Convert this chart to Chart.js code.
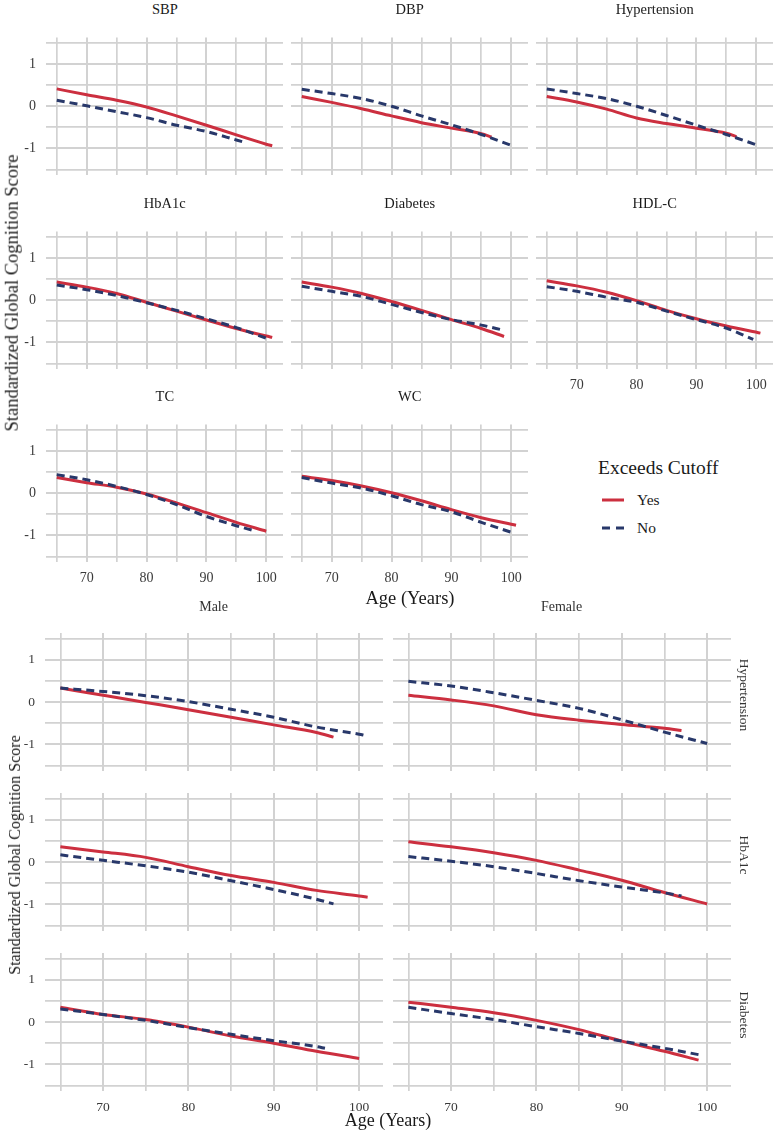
<!DOCTYPE html>
<html>
<head>
<meta charset="utf-8">
<script src="https://cdn.jsdelivr.net/npm/chart.js@4.4.1/dist/chart.umd.min.js"></script>
<style>
  html, body { margin: 0; padding: 0; background: #fff; }
  #fig {
    position: relative; width: 776px; height: 1132px; overflow: hidden;
    font-family: 'Liberation Serif', 'Times New Roman', serif; color: #1a1a1a;
  }
  #fig canvas { position: absolute; }
  .lbl { position: absolute; white-space: nowrap; line-height: 1; transform: translate(-50%, -50%); }
  .lbl.left { transform: translate(0, -50%); }
  .lbl.rot-l { transform: translate(-50%, -50%) rotate(-90deg); }
  .lbl.rot-r { transform: translate(-50%, -50%) rotate(90deg); }
  .swatch { position: absolute; height: 3px; width: 22px; transform: translateY(-50%); }
</style>
</head>
<body>
<div id="fig"></div>
<script>
// labels
const TOP_FACETS = ['SBP', 'DBP', 'Hypertension', 'HbA1c', 'Diabetes', 'HDL-C', 'TC', 'WC'];
const SEXES = ['Male', 'Female'];
const SEX_ROWS = ['Hypertension', 'HbA1c', 'Diabetes'];
const LEGEND_TITLE = 'Exceeds Cutoff';
const LEGEND_LABELS = ['Yes', 'No'];
const Y_TITLE = 'Standardized Global Cognition Score';
const X_TITLE = 'Age (Years)';

// fitted curves, [age, score]
const SBP_YES = [[65, 0.41], [70, 0.27], [75, 0.14], [80, -0.02], [85, -0.23], [90, -0.45], [95, -0.68], [100, -0.90], [101, -0.94]];
const SBP_NO = [[65, 0.14], [70, 0.01], [75, -0.13], [80, -0.27], [85, -0.45], [90, -0.60], [95, -0.80], [96.5, -0.86]];
const DBP_YES = [[65, 0.23], [70, 0.09], [75, -0.06], [80, -0.23], [85, -0.39], [90, -0.52], [95, -0.65], [96.7, -0.73]];
const DBP_NO = [[65, 0.40], [70, 0.30], [75, 0.18], [80, 0.00], [85, -0.23], [90, -0.44], [95, -0.67], [100, -0.93]];
const HTN_YES = [[65, 0.23], [70, 0.10], [75, -0.07], [80, -0.28], [85, -0.41], [90, -0.52], [95, -0.64], [96.7, -0.72]];
const HTN_NO = [[65, 0.41], [70, 0.30], [75, 0.18], [80, 0.00], [85, -0.22], [90, -0.45], [95, -0.67], [100.3, -0.93]];
const HBA1C_YES = [[65, 0.43], [70, 0.31], [75, 0.16], [80, -0.05], [85, -0.26], [90, -0.47], [95, -0.67], [100, -0.85], [101, -0.88]];
const HBA1C_NO = [[65, 0.36], [70, 0.25], [75, 0.11], [80, -0.06], [85, -0.24], [90, -0.44], [95, -0.65], [100, -0.90]];
const DIAB_YES = [[65, 0.43], [70, 0.31], [75, 0.16], [80, -0.03], [85, -0.24], [90, -0.46], [95, -0.67], [98.8, -0.86]];
const DIAB_NO = [[65, 0.33], [70, 0.21], [75, 0.09], [80, -0.10], [85, -0.29], [90, -0.46], [95, -0.59], [98.7, -0.71]];
const HDL_YES = [[65, 0.46], [70, 0.34], [75, 0.19], [80, -0.01], [85, -0.24], [90, -0.44], [95, -0.61], [100.7, -0.78]];
const HDL_NO = [[65, 0.32], [70, 0.21], [75, 0.07], [80, -0.05], [85, -0.26], [90, -0.46], [95, -0.66], [99.5, -0.93]];
const TC_YES = [[65, 0.37], [70, 0.25], [75, 0.14], [80, -0.02], [85, -0.23], [90, -0.46], [95, -0.69], [100, -0.90]];
const TC_NO = [[65, 0.44], [70, 0.32], [75, 0.16], [80, -0.03], [85, -0.27], [90, -0.55], [95, -0.77], [98, -0.89]];
const WC_YES = [[65, 0.40], [70, 0.30], [75, 0.17], [80, 0.01], [85, -0.18], [90, -0.39], [95, -0.58], [100.8, -0.76]];
const WC_NO = [[65, 0.37], [70, 0.24], [75, 0.12], [80, -0.06], [85, -0.27], [90, -0.44], [95, -0.69], [99.9, -0.92]];

const M_HTN_YES = [[65, 0.33], [70, 0.16], [75, -0.01], [80, -0.18], [85, -0.36], [90, -0.54], [95, -0.72], [97, -0.83]];
const M_HTN_NO = [[65, 0.33], [70, 0.25], [75, 0.15], [80, 0.01], [85, -0.17], [90, -0.36], [95, -0.59], [100, -0.76], [100.7, -0.79]];
const F_HTN_YES = [[65, 0.16], [70, 0.05], [75, -0.09], [80, -0.30], [85, -0.43], [90, -0.53], [95, -0.62], [97, -0.67]];
const F_HTN_NO = [[65, 0.49], [70, 0.38], [75, 0.22], [80, 0.04], [85, -0.15], [90, -0.42], [95, -0.71], [100, -0.98]];
const M_HBA1C_YES = [[65, 0.36], [70, 0.24], [75, 0.11], [80, -0.11], [85, -0.32], [90, -0.48], [95, -0.67], [100, -0.80], [101, -0.83]];
const M_HBA1C_NO = [[65, 0.17], [70, 0.04], [75, -0.09], [80, -0.24], [85, -0.44], [90, -0.65], [95, -0.88], [97, -0.99]];
const F_HBA1C_YES = [[65, 0.48], [70, 0.36], [75, 0.22], [80, 0.04], [85, -0.19], [90, -0.43], [95, -0.72], [100, -0.99]];
const F_HBA1C_NO = [[65, 0.13], [70, 0.02], [75, -0.11], [80, -0.27], [85, -0.44], [90, -0.59], [95, -0.73], [97, -0.80]];
const M_DIAB_YES = [[65, 0.35], [70, 0.18], [75, 0.06], [80, -0.12], [85, -0.33], [90, -0.50], [95, -0.69], [100, -0.86]];
const M_DIAB_NO = [[65, 0.31], [70, 0.18], [75, 0.04], [80, -0.13], [85, -0.29], [90, -0.44], [95, -0.58], [96, -0.62]];
const F_DIAB_YES = [[65, 0.47], [70, 0.35], [75, 0.22], [80, 0.04], [85, -0.18], [90, -0.45], [95, -0.69], [99, -0.90]];
const F_DIAB_NO = [[65, 0.35], [70, 0.20], [75, 0.06], [80, -0.11], [85, -0.27], [90, -0.45], [95, -0.62], [99, -0.77]];

const TOP_SERIES = {
  'SBP': [SBP_YES, SBP_NO], 'DBP': [DBP_YES, DBP_NO], 'Hypertension': [HTN_YES, HTN_NO],
  'HbA1c': [HBA1C_YES, HBA1C_NO], 'Diabetes': [DIAB_YES, DIAB_NO], 'HDL-C': [HDL_YES, HDL_NO],
  'TC': [TC_YES, TC_NO], 'WC': [WC_YES, WC_NO],
};
const SEX_SERIES = {
  Male: { 'Hypertension': [M_HTN_YES, M_HTN_NO], 'HbA1c': [M_HBA1C_YES, M_HBA1C_NO], 'Diabetes': [M_DIAB_YES, M_DIAB_NO] },
  Female: { 'Hypertension': [F_HTN_YES, F_HTN_NO], 'HbA1c': [F_HBA1C_YES, F_HBA1C_NO], 'Diabetes': [F_DIAB_YES, F_DIAB_NO] },
};

const AGE_MIN = 63.2, AGE_MAX = 102.8;
const SCORE_MIN = -1.63, SCORE_MAX = 1.63;

const YES_COLOR = '#cc2f3f';
const NO_COLOR = '#28386a';
const GRID = '#d2d2d2';
const TICK_COLOR = '#3a3a3a';
const FONT = "'Liberation Serif', 'Times New Roman', serif";

const fig = document.getElementById('fig');
const YW = 44, XH = 30, PAD = 4;

function addText(text, x, y, size, cls, color) {
  const d = document.createElement('div');
  d.className = 'lbl' + (cls ? ' ' + cls : '');
  d.textContent = text;
  d.style.left = x + 'px';
  d.style.top = y + 'px';
  d.style.fontSize = size + 'px';
  if (color) d.style.color = color;
  fig.appendChild(d);
}

function addPanel(box, series, showX, showY, tickSize) {
  const c = document.createElement('canvas');
  const w = box.w + YW + PAD, h = box.h + PAD + XH;
  c.width = w;
  c.height = h;
  c.style.left = (box.x - YW) + 'px';
  c.style.top = (box.y - PAD) + 'px';
  c.style.width = w + 'px';
  c.style.height = h + 'px';
  fig.appendChild(c);

  new Chart(c, {
    type: 'line',
    data: {
      datasets: series.map((pts, i) => ({
        label: LEGEND_LABELS[i],
        data: pts.map(([x, y]) => ({ x, y })),
        borderColor: i === 0 ? YES_COLOR : NO_COLOR,
        borderWidth: 3,
        borderDash: i === 0 ? [] : [8, 5],
        pointRadius: 0,
        cubicInterpolationMode: 'monotone',
        fill: false,
        order: i === 0 ? 1 : 0,
      })),
    },
    options: {
      responsive: false,
      animation: false,
      events: [],
      layout: { padding: { top: PAD, right: PAD, left: 0, bottom: 0 } },
      plugins: { legend: { display: false }, tooltip: { enabled: false } },
      scales: {
        x: {
          type: 'linear', min: AGE_MIN, max: AGE_MAX,
          border: { display: false },
          grid: { color: GRID, drawTicks: false, lineWidth: (ctx) => (ctx.tick && ctx.tick.value % 10 === 0 ? 2 : 1.7) },
          ticks: {
            stepSize: 5, includeBounds: false, autoSkip: false, maxRotation: 0, padding: 8,
            color: TICK_COLOR, font: { family: FONT, size: tickSize },
            callback: (v) => (showX && v % 10 === 0 ? String(v) : ''),
          },
          afterFit: (s) => { s.height = XH; },
        },
        y: {
          min: SCORE_MIN, max: SCORE_MAX,
          border: { display: false },
          grid: { color: GRID, drawTicks: false, lineWidth: (ctx) => (ctx.tick && Math.abs(ctx.tick.value % 1) < 1e-6 ? 2 : 1.7) },
          ticks: {
            stepSize: 0.5, includeBounds: false, autoSkip: false, padding: 10,
            color: TICK_COLOR, font: { family: FONT, size: tickSize },
            callback: (v) => (showY && Math.abs(v - Math.round(v)) < 1e-6 ? String(Math.round(v)) : ''),
          },
          afterFit: (s) => { s.width = YW; },
        },
      },
    },
  });
}

// top block: facets by risk factor
const TOP_COLS = [46.3, 291.2, 536.2];
const TOP_ROWS = [23, 217, 410];
TOP_FACETS.forEach((name, i) => {
  const col = i % 3, row = Math.floor(i / 3);
  const box = { x: TOP_COLS[col], y: TOP_ROWS[row], w: 237, h: 152 };
  addPanel(box, TOP_SERIES[name], i >= 5, col === 0, 14);
  addText(name, box.x + box.w / 2, box.y - 14, 14.5);
});
addText(Y_TITLE, 12, 293, 18.5, 'rot-l');
addText(X_TITLE, 410, 598, 18.5);

// legend
addText(LEGEND_TITLE, 598, 468, 19.5, 'left');
const legendRows = [500, 528];
LEGEND_LABELS.forEach((lab, i) => {
  const sw = document.createElement('div');
  sw.className = 'swatch';
  sw.style.left = '602px';
  sw.style.top = legendRows[i] + 'px';
  sw.style.background = i === 0 ? YES_COLOR
    : 'repeating-linear-gradient(90deg, ' + NO_COLOR + ' 0 8px, transparent 8px 14px)';
  fig.appendChild(sw);
  addText(lab, 637, legendRows[i], 15.5, 'left');
});

// bottom block: sex by risk factor
const SEX_COLS = [44.6, 392.6];
const SEX_ROW_TOPS = [619, 779, 939];
SEX_ROWS.forEach((factor, r) => {
  SEXES.forEach((sex, c) => {
    const box = { x: SEX_COLS[c], y: SEX_ROW_TOPS[r], w: 338, h: 152 };
    addPanel(box, SEX_SERIES[sex][factor], r === SEX_ROWS.length - 1, c === 0, 13.5);
    if (r === 0) addText(sex, box.x + box.w / 2, box.y - 12, 14, '', '#333');
  });
  addText(factor, 744, SEX_ROW_TOPS[r] + 76, 13.5, 'rot-r', '#333');
});
addText(Y_TITLE, 15, 855, 16, 'rot-l');
addText(X_TITLE, 388, 1120, 18);
</script>
</body>
</html>
